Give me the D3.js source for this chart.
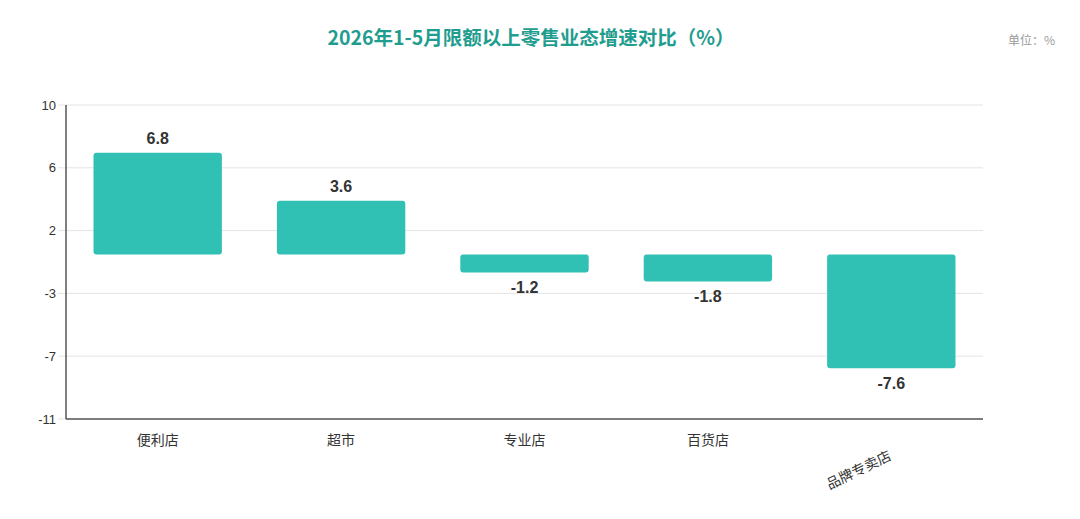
<!DOCTYPE html>
<html>
<head>
<meta charset="utf-8">
<script src="https://cdn.jsdelivr.net/npm/d3@7"></script>
<style>
  body { margin: 0; background: #fff; }
  svg { display: block; font-family: "Noto Sans CJK SC", "Noto Sans", sans-serif; }
  .num { font-family: "Liberation Sans", "DejaVu Sans", sans-serif; }
</style>
</head>
<body>
<svg id="chart" width="1080" height="519"></svg>
<script>
// data
const categories = ["便利店", "超市", "专业店", "百货店", "品牌专卖店"];
const growth = [6.8, 3.6, -1.2, -1.8, -7.6];
const tickValues = [10, 5.8, 1.6, -2.6, -6.8, -11];
const tickLabels = ["10", "6", "2", "-3", "-7", "-11"];

const width = 1080, height = 519;
const margin = { top: 105, right: 97, bottom: 100, left: 66 };
const barColor = "#31c1b4";

const svg = d3.select("#chart");

const x = d3.scaleBand()
  .domain(categories)
  .range([margin.left, width - margin.right])
  .paddingInner(0.3)
  .paddingOuter(0.15);

const y = d3.scaleLinear()
  .domain([-11, 10])
  .range([height - margin.bottom, margin.top]);

// title + unit
svg.append("text")
  .attr("x", 531).attr("y", 45)
  .attr("text-anchor", "middle")
  .style("font-size", "19.5px").style("font-weight", "bold")
  .style("fill", "#1f9d8f")
  .text("2026年1-5月限额以上零售业态增速对比（%）");

svg.append("text")
  .attr("x", 1055).attr("y", 45)
  .attr("text-anchor", "end")
  .style("font-size", "12px").style("fill", "#9a9a9a")
  .text("单位：%");

// grid lines
svg.append("g")
  .selectAll("line")
  .data(tickValues)
  .enter()
  .append("line")
  .attr("x1", margin.left - 8)
  .attr("x2", width - margin.right)
  .attr("y1", d => y(d)).attr("y2", d => y(d))
  .attr("stroke", "#e4e4e4")
  .attr("stroke-width", 1);

// y tick labels
svg.append("g")
  .selectAll("text")
  .data(tickValues)
  .enter()
  .append("text")
  .attr("class", "num")
  .attr("x", margin.left - 10)
  .attr("y", d => y(d))
  .attr("dy", "0.35em")
  .attr("text-anchor", "end")
  .style("font-size", "13px").style("fill", "#333")
  .text((d, i) => tickLabels[i]);

// bars
const bars = svg.append("g");
bars.selectAll("rect")
  .data(growth)
  .enter()
  .append("rect")
  .attr("x", (d, i) => x(categories[i]))
  .attr("width", x.bandwidth())
  .attr("y", d => y(Math.max(0, d)))
  .attr("height", d => Math.abs(y(d) - y(0)))
  .attr("rx", 3)
  .attr("fill", barColor);

// value labels
bars.selectAll("text")
  .data(growth)
  .enter()
  .append("text")
  .attr("class", "num")
  .attr("x", (d, i) => x(categories[i]) + x.bandwidth() / 2)
  .attr("y", d => d >= 0 ? y(d) - 9 : y(d) + 21)
  .attr("text-anchor", "middle")
  .style("font-size", "16px").style("font-weight", "bold")
  .style("fill", "#333")
  .text(d => d.toFixed(1));

// axes lines
svg.append("line")
  .attr("x1", margin.left).attr("x2", margin.left)
  .attr("y1", margin.top).attr("y2", height - margin.bottom)
  .attr("stroke", "#555").attr("stroke-width", 1.5);
svg.append("line")
  .attr("x1", margin.left).attr("x2", width - margin.right)
  .attr("y1", height - margin.bottom).attr("y2", height - margin.bottom)
  .attr("stroke", "#555").attr("stroke-width", 1.5);

// x labels (last one is tilted)
svg.append("g")
  .selectAll("text")
  .data(categories)
  .enter()
  .append("text")
  .attr("transform", (d, i) => {
    const cx = x(d) + x.bandwidth() / 2;
    if (i === categories.length - 1) return "translate(" + (cx + 1) + "," + (height - margin.bottom + 40) + ") rotate(-26)";
    return "translate(" + cx + "," + (height - margin.bottom + 26) + ")";
  })
  .attr("text-anchor", (d, i) => i === categories.length - 1 ? "end" : "middle")
  .style("font-size", "14px").style("fill", "#333")
  .text(d => d);
</script>
</body>
</html>
